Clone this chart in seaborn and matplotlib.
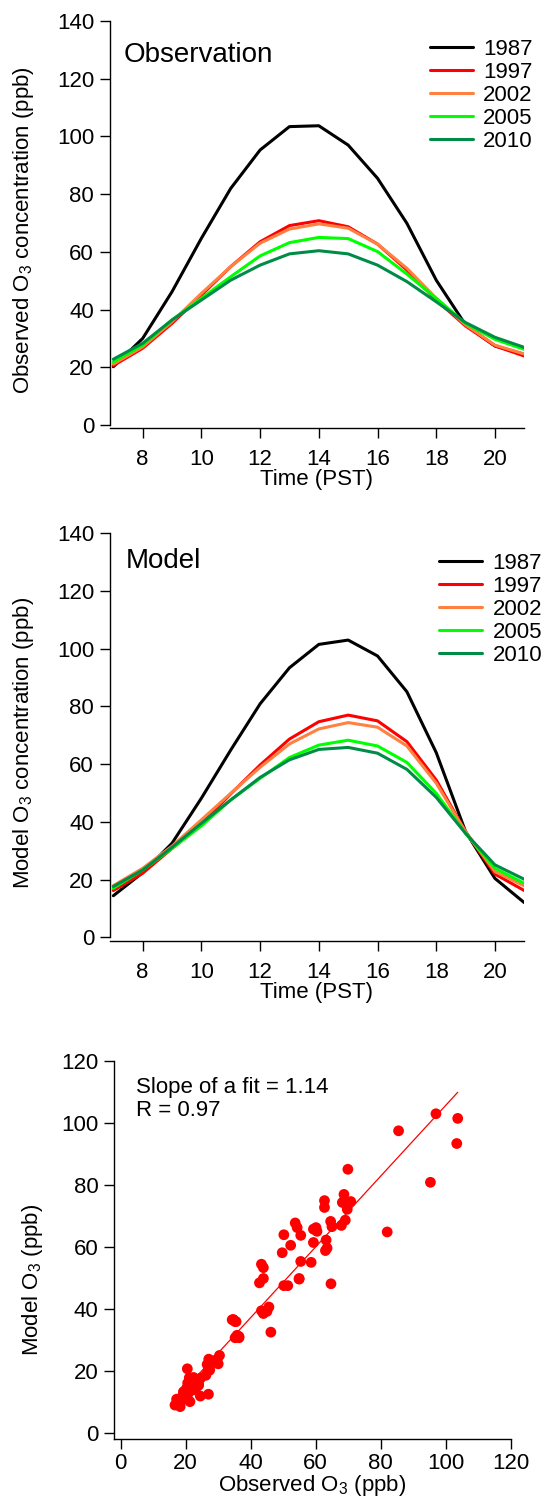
import numpy as np
import pandas as pd
import matplotlib
matplotlib.use("Agg")
import matplotlib.pyplot as plt
import seaborn as sns

# ---------------- data ----------------
hours = [7, 8, 9, 10, 11, 12, 13, 14, 15, 16, 17, 18, 19, 20, 21]
years = ["1987", "1997", "2002", "2005", "2010"]
year_colors = ["#000000", "#FF0000", "#FF8040", "#00FF00", "#008C46"]

obs_1987 = [20.2, 30.0, 46.2, 64.7, 82.0, 95.3, 103.4, 103.7, 97.0, 85.5, 69.9, 50.2, 34.7, 27.4, 24.5]
obs_1997 = [20.6, 26.6, 35.2, 45.0, 54.9, 63.5, 69.1, 70.8, 68.7, 62.7, 53.7, 43.3, 34.3, 27.4, 23.9]
obs_2002 = [21.1, 27.1, 35.8, 45.6, 54.9, 63.0, 67.9, 69.7, 68.2, 62.7, 54.3, 43.9, 34.7, 27.7, 24.6]
obs_2005 = [21.9, 27.7, 36.4, 43.9, 51.4, 58.6, 63.2, 65.0, 64.6, 60.1, 52.3, 43.9, 35.2, 29.7, 26.2]
obs_2010 = [22.8, 28.3, 36.4, 43.3, 50.2, 55.4, 59.3, 60.4, 59.3, 55.4, 49.7, 42.7, 35.5, 30.4, 26.9]

model_1987 = [14.4, 22.4, 32.6, 48.2, 64.9, 80.9, 93.4, 101.5, 103.0, 97.5, 85.1, 64.0, 36.6, 20.4, 12.0]
model_1997 = [16.2, 22.2, 30.8, 39.3, 49.7, 59.7, 68.7, 74.7, 77.0, 75.0, 67.8, 54.5, 36.6, 21.9, 16.2]
model_2002 = [17.9, 23.9, 31.6, 40.7, 49.9, 58.9, 67.0, 72.2, 74.4, 72.8, 66.3, 53.4, 36.6, 22.8, 17.8]
model_2005 = [17.0, 23.3, 30.8, 38.6, 47.6, 55.1, 62.3, 66.6, 68.3, 66.3, 60.6, 49.9, 36.0, 23.9, 18.7]
model_2010 = [17.6, 23.3, 31.2, 39.5, 47.6, 55.4, 61.5, 65.1, 65.8, 63.8, 58.2, 48.5, 36.0, 25.1, 20.1]

# additional low-concentration pairs in the scatter panel
extra_obs = [20.5, 22.4, 22.9, 23.4, 21.8, 22.4, 20.8, 20.1, 19.3, 19.8, 18.8, 17.2,
             16.7, 18.3, 17.7, 21.3, 27.0, 21.0, 19.0, 23.8, 21.5, 24.0]
extra_model = [20.8, 18.0, 16.1, 15.0, 14.5, 14.0, 12.9, 12.4, 13.4, 11.8, 10.7, 11.0,
               9.1, 8.6, 9.7, 10.2, 12.6, 14.0, 12.0, 17.0, 16.0, 15.5]

fit_slope = 1.14
fit_intercept = -8.3
fit_r = 0.97

obs_series = [obs_1987, obs_1997, obs_2002, obs_2005, obs_2010]
model_series = [model_1987, model_1997, model_2002, model_2005, model_2010]

rows = []
for y, o, m in zip(years, obs_series, model_series):
    for h, ov, mv in zip(hours, o, m):
        rows.append({"hour": h, "year": y, "obs": ov, "model": mv})
df = pd.DataFrame(rows)
scatter_df = pd.concat([df[["obs", "model"]],
                        pd.DataFrame({"obs": extra_obs, "model": extra_model})],
                       ignore_index=True)
palette = dict(zip(years, year_colors))

# ---------------- style ----------------
sns.set_theme(style="ticks")
plt.rcParams["font.family"] = ["Liberation Sans", "DejaVu Sans"]
plt.rcParams["mathtext.fontset"] = "custom"
plt.rcParams["mathtext.rm"] = "Liberation Sans"
plt.rcParams["mathtext.it"] = "Liberation Sans:italic"
plt.rcParams["axes.linewidth"] = 1.0
plt.rcParams["xtick.major.width"] = 1.0
plt.rcParams["ytick.major.width"] = 1.0
plt.rcParams["xtick.color"] = "black"
plt.rcParams["ytick.color"] = "black"
plt.rcParams["axes.edgecolor"] = "black"
plt.rcParams["text.color"] = "black"
plt.rcParams["axes.labelcolor"] = "black"

W, H = 542, 1504
fig = plt.figure(figsize=(W / 100, H / 100), dpi=100)


def rect(left, right, top, bottom):
    return [left / W, 1 - bottom / H, (right - left) / W, (bottom - top) / H]


FS = 16

def style_axes(ax, xpad, ypad):
    sns.despine(ax=ax)
    ax.tick_params(axis="both", direction="out", length=7.5, labelsize=FS,
                   colors="black", labelcolor="black")
    ax.tick_params(axis="x", pad=xpad)
    ax.tick_params(axis="y", pad=ypad)
    ax.grid(False)


leg_kw = dict(loc="upper left", frameon=False, fontsize=FS, handlelength=1.94,
              handletextpad=0.45, labelspacing=0.087, borderpad=0, borderaxespad=0,
              labelcolor="black")

# ---------- panel 1: observation ----------
ax1 = fig.add_axes(rect(109.5, 524.3, 21, 428.3))
sns.lineplot(data=df, x="hour", y="obs", hue="year", hue_order=years, palette=palette,
             linewidth=2.2, legend=False, errorbar=None, ax=ax1)
ax1.set_xlim(6.87, 21)
ax1.set_ylim(-1.14, 140)
ax1.set_xticks(range(8, 21, 2))
ax1.set_yticks(range(0, 141, 20))
ax1.spines["left"].set_bounds(0, 140)
style_axes(ax1, 7.5, 3.6)
ax1.set_xlabel("Time (PST)", fontsize=FS, va="top")
ax1.set_ylabel("Observed O$_3$ concentration (ppb)", fontsize=FS)
ax1.xaxis.set_label_coords(0.5, -0.0999)
ax1.yaxis.set_label_coords(-0.1762, 0.487)
ax1.text(0.0342, 0.8993, "Observation", transform=ax1.transAxes, fontsize=20, va="baseline")
ax1.legend(ax1.lines[:5], years, bbox_to_anchor=(0.7727, 0.9561), **leg_kw)

# ---------- panel 2: model ----------
ax2 = fig.add_axes(rect(109.5, 524.3, 533.3, 940.7))
sns.lineplot(data=df, x="hour", y="model", hue="year", hue_order=years, palette=palette,
             linewidth=2.2, legend=False, errorbar=None, ax=ax2)
ax2.set_xlim(6.87, 21)
ax2.set_ylim(-1.18, 140)
ax2.set_xticks(range(8, 21, 2))
ax2.set_yticks(range(0, 141, 20))
ax2.spines["left"].set_bounds(0, 140)
style_axes(ax2, 7.5, 3.6)
ax2.set_xlabel("Time (PST)", fontsize=FS, va="top")
ax2.set_ylabel("Model O$_3$ concentration (ppb)", fontsize=FS)
ax2.xaxis.set_label_coords(0.5, -0.1006)
ax2.yaxis.set_label_coords(-0.1762, 0.4865)
ax2.text(0.0381, 0.9141, "Model", transform=ax2.transAxes, fontsize=20, va="baseline")
ax2.legend(ax2.lines[:5], years, bbox_to_anchor=(0.795, 0.9511), **leg_kw)

# ---------- panel 3: scatter ----------
ax3 = fig.add_axes(rect(114.3, 510.7, 1061, 1439.3))
sns.scatterplot(data=scatter_df, x="obs", y="model", color="#FF0000", s=60,
                edgecolor="none", linewidth=0, ax=ax3, zorder=3)
xs = np.array([min(df["obs"]), max(df["obs"])])
ax3.plot(xs, fit_slope * xs + fit_intercept, color="#FF0000", linewidth=0.9, zorder=4)
ax3.set_xlim(-1.97, 120)
ax3.set_ylim(-1.93, 120)
ax3.set_xticks(range(0, 121, 20))
ax3.set_yticks(range(0, 121, 20))
style_axes(ax3, 2.4, 4.0)
ax3.set_xlabel("Observed O$_3$ (ppb)", fontsize=FS, va="top")
ax3.set_ylabel("Model O$_3$ (ppb)", fontsize=FS)
ax3.xaxis.set_label_coords(0.5, -0.0899)
ax3.yaxis.set_label_coords(-0.1756, 0.421)
ax3.text(0.0555, 0.9162, f"Slope of a fit = {fit_slope:.2f}", transform=ax3.transAxes,
         fontsize=FS, va="baseline")
ax3.text(0.0555, 0.8546, f"R = {fit_r:.2f}", transform=ax3.transAxes,
         fontsize=FS, va="baseline")

fig.savefig("out.png", dpi=100, facecolor="white")
